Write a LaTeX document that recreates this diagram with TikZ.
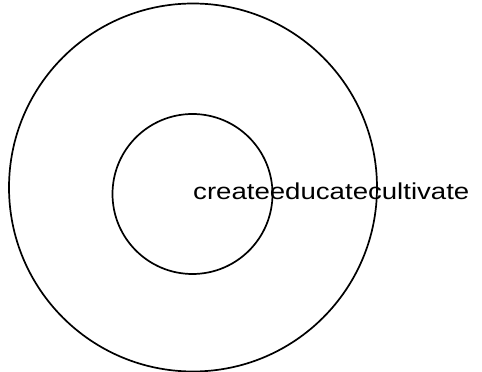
\documentclass[tikz,border=0pt]{standalone}
\usepackage{fontspec}
\setmainfont{Liberation Sans}
\begin{document}
\begin{tikzpicture}[x=1pt,y=1pt,
  ring/.style={draw=black,line width=1.7pt},
  lbl/.style={inner sep=0pt,anchor=base west,font=\fontsize{23}{27}\selectfont}]
\useasboundingbox (0,0) rectangle (482,372);
\node[ring,circle,minimum size=368pt,inner sep=0pt] (outer) at (193,184.5) {};
\node[ring,circle,minimum size=160pt,inner sep=0pt] (inner) at (192.5,178) {};
\node[lbl] (t) at (193,172) {\scalebox{1.2}[1]{createeducatecultivate}};
\end{tikzpicture}
\end{document}
